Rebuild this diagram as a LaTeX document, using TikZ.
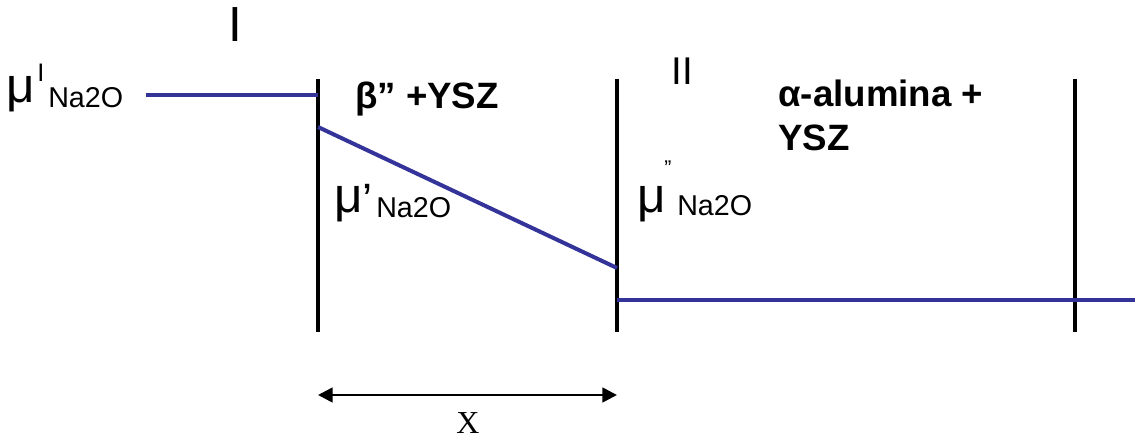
\documentclass[tikz,border=0pt]{standalone}
\usepackage{fontspec}
\setmainfont{Liberation Sans}
\newfontfamily\serifx{Liberation Serif}
\usetikzlibrary{arrows.meta,positioning}
\definecolor{potblue}{HTML}{333399}

\begin{document}
\begin{tikzpicture}[
  x=0.75pt, y=-0.75pt,
  wall/.style={line width=3pt, black},
  pot/.style={line width=3pt, potblue},
  txt/.style={inner sep=0pt, anchor=base west},
  mu/.style={txt, font=\fontsize{37}{42}\selectfont},
  sub/.style={txt, font=\fontsize{21.5}{25}\selectfont},
  phase/.style={txt, font=\fontsize{27.5}{33}\selectfont\bfseries, align=left},
  roman/.style={inner sep=0pt, anchor=base},
  dist/.style={{Triangle[length=11pt,width=11pt]}-{Triangle[length=11pt,width=11pt]}, line width=2pt},
]
  \useasboundingbox (0,0) rectangle (1135,438);

  % walls of the two layers
  \coordinate (w1t) at (318,79);  \coordinate (w1b) at (318,332);
  \coordinate (w2t) at (617,79);  \coordinate (w2b) at (617,332);
  \coordinate (w3t) at (1075,79); \coordinate (w3b) at (1075,332);
  \draw[wall] (w1t) -- (w1b);
  \draw[wall] (w2t) -- (w2b);
  \draw[wall] (w3t) -- (w3b);

  % chemical potential profile
  \coordinate (p0) at (146,95);  \coordinate (p1) at (318,95);
  \coordinate (p2) at (318,127); \coordinate (p3) at (617,268);
  \coordinate (p4) at (617,300); \coordinate (p5) at (1135,300);
  \draw[pot] (p0) -- (p1);
  \draw[pot] (p2) -- (p3);
  \draw[pot] (p4) -- (p5);

  % region labels
  \node[roman, font=\fontsize{37}{40}\selectfont] (regI) at (235,42) {I};
  \node[roman, font=\fontsize{29}{34}\selectfont] (regII) at (682,85) {II};
  \node[phase] (beta) at (355,109) {β” +YSZ};
  \node[phase, anchor=north west] (alpha) at (778,80) {α-alumina +\\YSZ};

  % potentials
  \node[mu] (muI) at (6,103) {μ};
  \node[txt, font=\fontsize{19}{22}\selectfont] (supI) at (37,82) {I};
  \node[sub] (subI) at (48,108) {Na2O};

  \node[mu] (muA) at (334,213) {μ};
  \node[txt, font=\fontsize{34}{38}\selectfont] (supA) at (362,216) {’};
  \node[sub] (subA) at (376,218) {Na2O};

  \node[mu] (muB) at (637,213) {μ};
  \node[txt, font=\fontsize{16}{20}\selectfont] (supB) at (664,176) {”};
  \node[sub] (subB) at (677,216) {Na2O};

  % thickness of the layer
  \coordinate (xa) at (318,395); \coordinate (xb) at (617,395);
  \draw[dist] (xa) -- (xb);
  \node[roman, font=\serifx\fontsize{24}{28}\selectfont] (xlbl) at (468,433) {X};
\end{tikzpicture}
\end{document}
